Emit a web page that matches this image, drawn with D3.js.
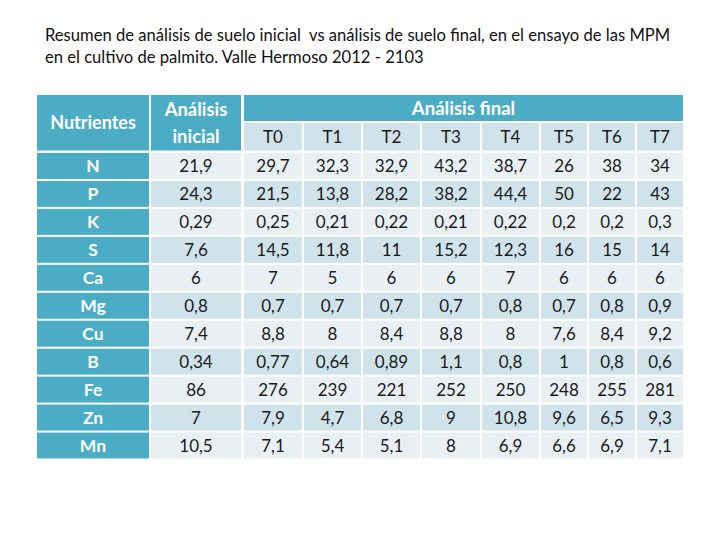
<!DOCTYPE html>
<html>
<head>
<meta charset="utf-8">
<script src="https://cdn.jsdelivr.net/npm/d3@7"></script>
<style>
  html, body { margin: 0; padding: 0; background: #ffffff; }
  svg { display: block; }
</style>
</head>
<body>
<svg id="chart" width="720" height="540"></svg>
<script>
// ---- data ----
const titleLines = [
  "Resumen de análisis de suelo inicial  vs análisis de suelo final, en el ensayo de las MPM",
  "en el cultivo de palmito. Valle Hermoso 2012 - 2103"
];
const nutrients = ["N", "P", "K", "S", "Ca", "Mg", "Cu", "B", "Fe", "Zn", "Mn"];
const inicial = [21.9, 24.3, 0.29, 7.6, 6, 0.8, 7.4, 0.34, 86, 7, 10.5];
const treatments = ["T0", "T1", "T2", "T3", "T4", "T5", "T6", "T7"];
const t0 = [29.7, 21.5, 0.25, 14.5, 7, 0.7, 8.8, 0.77, 276, 7.9, 7.1];
const t1 = [32.3, 13.8, 0.21, 11.8, 5, 0.7, 8, 0.64, 239, 4.7, 5.4];
const t2 = [32.9, 28.2, 0.22, 11, 6, 0.7, 8.4, 0.89, 221, 6.8, 5.1];
const t3 = [43.2, 38.2, 0.21, 15.2, 6, 0.7, 8.8, 1.1, 252, 9, 8];
const t4 = [38.7, 44.4, 0.22, 12.3, 7, 0.8, 8, 0.8, 250, 10.8, 6.9];
const t5 = [26, 50, 0.2, 16, 6, 0.7, 7.6, 1, 248, 9.6, 6.6];
const t6 = [38, 22, 0.2, 15, 6, 0.8, 8.4, 0.8, 255, 6.5, 6.9];
const t7 = [34, 43, 0.3, 14, 6, 0.9, 9.2, 0.6, 281, 9.3, 7.1];
const headerNutrientes = "Nutrientes";
const headerInicial = ["Análisis", "inicial"];
const headerFinal = "Análisis final";

// ---- layout ----
const finalSeries = [t0, t1, t2, t3, t4, t5, t6, t7];
const colEdges = {
  nut: [37, 149], ini: [151, 241],
  T0: [244, 302], T1: [304, 361], T2: [363, 420], T3: [422, 480],
  T4: [482, 539], T5: [541, 587], T6: [589, 635], T7: [637, 683]
};
const TEAL = "#4bacc6", LIGHT = "#e9f0f4", DARK = "#d1e3ea";
const FONT = "Lato, 'Open Sans', sans-serif";
const fmt = v => String(v).replace(".", ",");

const svg = d3.select("#chart");

const y = d3.scaleBand().domain(nutrients).range([153, 458.5]).paddingInner(0.072);

// title
svg.append("g").selectAll("text").data(titleLines).join("text")
  .attr("x", 45).attr("y", (d, i) => 41 + i * 22)
  .attr("font-family", FONT).attr("font-size", 16.6).attr("fill", "#111")
  .style("white-space", "pre").attr("xml:space", "preserve")
  .text(d => d);

const g = svg.append("g");

function cell(x0, x1, y0, y1, fill, lines, opts) {
  g.append("rect").attr("x", x0).attr("y", y0).attr("width", x1 - x0).attr("height", y1 - y0).attr("fill", fill);
  const n = lines.length, lh = opts.lh || 26;
  lines.forEach((t, i) => {
    g.append("text")
      .attr("x", (x0 + x1) / 2)
      .attr("y", (y0 + y1) / 2 + (i - (n - 1) / 2) * lh)
      .attr("dy", "0.36em")
      .attr("text-anchor", "middle")
      .attr("font-family", FONT)
      .attr("font-size", opts.size || 17)
      .attr("font-weight", opts.bold ? 700 : 400)
      .attr("fill", opts.color || "#1a1a1a")
      .text(t);
  });
}

// header
cell(colEdges.nut[0], colEdges.nut[1], 95, 150.5, TEAL, [headerNutrientes], { bold: true, color: "#fff", size: 18 });
cell(colEdges.ini[0], colEdges.ini[1], 95, 150.5, TEAL, headerInicial, { bold: true, color: "#fff", size: 18.4, lh: 27 });
cell(colEdges.T0[0], colEdges.T7[1], 95, 121, TEAL, [headerFinal], { bold: true, color: "#fff", size: 18.6 });
treatments.forEach(t => cell(colEdges[t][0], colEdges[t][1], 123, 150.5, DARK, [t], { size: 17 }));

// body
nutrients.forEach((nut, i) => {
  const y0 = y(nut), y1 = y0 + y.bandwidth();
  const bg = i % 2 === 0 ? LIGHT : DARK;
  cell(colEdges.nut[0], colEdges.nut[1], y0, y1, TEAL, [nut], { bold: true, color: "#fff", size: 17.5 });
  cell(colEdges.ini[0], colEdges.ini[1], y0, y1, bg, [fmt(inicial[i])], {});
  treatments.forEach((t, j) => {
    cell(colEdges[t][0], colEdges[t][1], y0, y1, bg, [fmt(finalSeries[j][i])], {});
  });
});
</script>
</body>
</html>
